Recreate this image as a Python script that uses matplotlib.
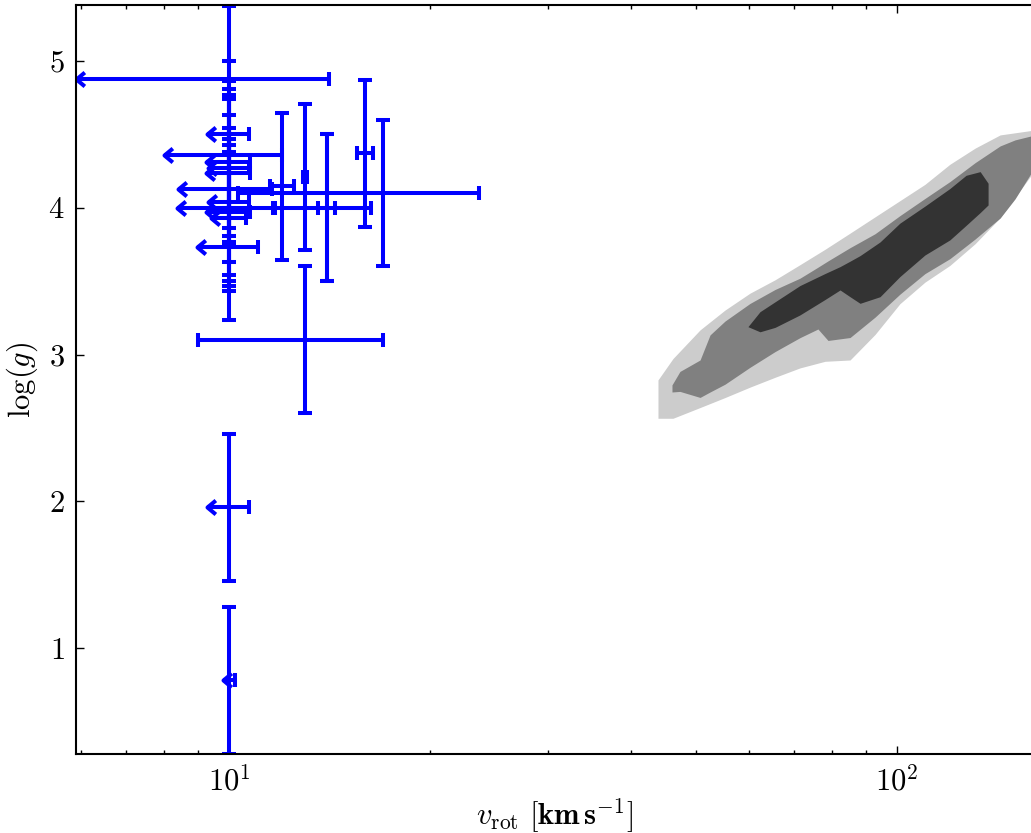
import numpy as np
import matplotlib
matplotlib.use('Agg')
import matplotlib.pyplot as plt
from matplotlib import ticker

plt.rcParams['mathtext.fontset'] = 'cm'
plt.rcParams['font.family'] = 'serif'
plt.rcParams['font.serif'] = ['cmr10', 'DejaVu Serif']
plt.rcParams['axes.formatter.use_mathtext'] = True

# measured stars (v_rot, error, log g, error)
v_det = [12.0, 13.0, 14.0, 14.0, 16.0, 17.0, 13.0]
v_det_err = [0.5, 0.1, 2.3, 0.4, 0.45, 6.7, 4.0]
g_det = [4.145, 4.21, 4.0, 4.0, 4.37, 4.1, 3.1]
g_det_err = [0.5, 0.5, 0.5, 0.5, 0.5, 0.5, 0.5]

# stars with only an upper limit on v_rot
v_lim = [10.0, 10.0, 10.0, 10.0, 10.0, 10.0, 10.0, 10.0, 10.0, 10.0, 10.0, 10.0, 10.0, 10.0]
v_lim_err = [4.1, 0.72, 2.0, 0.75, 0.7, 0.75, 1.6, 0.7, 1.64, 0.75, 0.6, 1.05, 0.72, 0.22]
g_lim = [4.877, 4.50, 4.36, 4.31, 4.27, 4.24, 4.13, 4.04, 4.0, 3.97, 3.93, 3.735, 1.96, 0.78]
g_lim_err = [0.5, 0.5, 0.5, 0.5, 0.5, 0.5, 0.5, 0.5, 0.5, 0.5, 0.5, 0.5, 0.5, 0.5]

# model density contours: lower / upper log g edge of each level vs v_rot
light_v = [43.87, 46.20, 50.72, 55.27, 60.24, 65.67, 71.57, 78.03, 85.06, 92.72,
           101.0, 110.1, 120.0, 130.9, 142.7, 161.0]
light_lo = [2.566, 2.566, 2.639, 2.707, 2.778, 2.845, 2.909, 2.954, 2.963, 3.137,
            3.346, 3.493, 3.607, 3.755, 3.932, 4.258]
light_hi = [2.827, 2.973, 3.168, 3.303, 3.418, 3.509, 3.612, 3.717, 3.827, 3.938,
            4.048, 4.159, 4.296, 4.406, 4.496, 4.530]

mid_v = [46.04, 47.32, 50.72, 52.50, 55.27, 60.24, 65.67, 71.57, 76.15, 78.84,
         85.06, 92.72, 101.0, 110.1, 120.0, 130.9, 142.7, 150.2, 161.0]
mid_lo = [2.745, 2.749, 2.708, 2.745, 2.798, 2.913, 3.020, 3.115, 3.174, 3.096,
          3.116, 3.255, 3.411, 3.551, 3.653, 3.787, 3.930, 4.060, 4.280]
mid_hi = [2.793, 2.885, 2.963, 3.134, 3.228, 3.348, 3.443, 3.520, 3.595, 3.638,
          3.728, 3.823, 3.946, 4.063, 4.178, 4.307, 4.421, 4.462, 4.496]

dark_v = [59.82, 62.36, 65.67, 71.57, 78.03, 82.18, 85.06, 88.05, 94.32, 101.0,
          110.1, 120.0, 126.9, 133.2, 136.9]
dark_lo = [3.190, 3.155, 3.185, 3.270, 3.375, 3.440, 3.394, 3.349, 3.394, 3.531,
           3.678, 3.781, 3.880, 3.967, 4.019]
dark_hi = [3.190, 3.292, 3.359, 3.470, 3.552, 3.599, 3.636, 3.674, 3.767, 3.895,
           4.011, 4.131, 4.221, 4.246, 4.167]

fig = plt.figure(figsize=(10.31, 8.33), dpi=100)
ax = fig.add_axes([0.0737, 0.0948, 0.9282, 0.8992])

ax.fill_between(light_v, light_lo, light_hi, color='#cccccc', lw=0)
ax.fill_between(mid_v, mid_lo, mid_hi, color='#808080', lw=0)
ax.fill_between(dark_v, dark_lo, dark_hi, color='#333333', lw=0)

lw = 2.9
eb = dict(fmt='none', ecolor='b', elinewidth=lw, capthick=lw, capsize=4.8)
ax.errorbar(v_det, g_det, xerr=v_det_err, yerr=g_det_err, **eb)

v_lim = np.array(v_lim)
v_lim_err = np.array(v_lim_err)
ax.errorbar(v_lim, g_lim, yerr=g_lim_err, **eb)
ax.errorbar(v_lim, g_lim, xerr=v_lim_err, fmt='none', ecolor='b', elinewidth=lw, capsize=0)
ax.plot(v_lim + v_lim_err, g_lim, ls='none', marker='|', ms=9.6, mew=lw, color='b')
chevron = [(1.2, 1.0), (0, 0), (1.2, -1.0)]
ax.plot(v_lim - v_lim_err, g_lim, ls='none', marker=chevron, ms=12,
        mfc='none', mec='b', mew=lw)

ax.set_xscale('log')
ax.set_xlim(5.9, 159.8)
ax.set_ylim(0.279, 5.381)
ax.xaxis.set_major_formatter(ticker.FuncFormatter(lambda v, p: r'$10^{%d}$' % round(np.log10(v))))
ax.xaxis.set_minor_formatter(ticker.NullFormatter())
ax.yaxis.set_major_locator(ticker.MultipleLocator(1))
ax.yaxis.set_major_formatter(ticker.FuncFormatter(lambda v, p: r'$%d$' % round(v)))
ax.tick_params(which='both', direction='in', top=True, right=False)
ax.tick_params(which='major', length=6, width=1, labelsize=22, pad=8)
ax.tick_params(which='minor', length=3, width=1)
for s in ax.spines.values():
    s.set_linewidth(1.5)

ax.set_xlabel(r'$v_{\rm rot}\ [\mathbf{km\,s}^{-1}]$', fontsize=22, labelpad=0)
ax.set_ylabel(r'$\log(g)$', fontsize=22, labelpad=6)

plt.savefig('out.png', dpi=100)
